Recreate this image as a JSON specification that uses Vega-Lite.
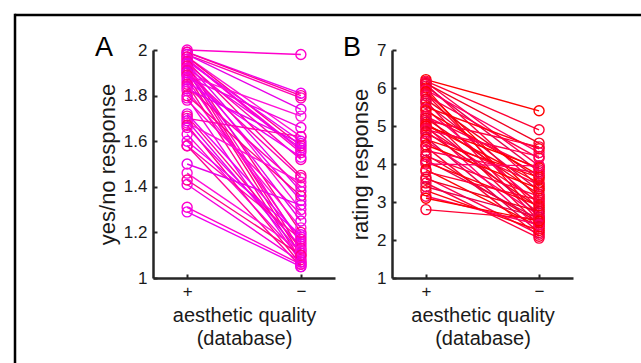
{
  "$schema": "https://vega.github.io/schema/vega-lite/v6.json",
  "background": "white",
  "padding": {"left": 13, "top": 13, "right": 0, "bottom": 0},
  "config": {
    "view": {"stroke": null},
    "font": "Liberation Sans",
    "axis": {
      "grid": false,
      "domainColor": "#262626",
      "domainWidth": 2.5,
      "tickColor": "#262626",
      "tickWidth": 2,
      "tickSize": -4,
      "labelFont": "Liberation Sans",
      "labelFontSize": 17,
      "labelColor": "#1a1a1a",
      "titleFont": "Liberation Sans",
      "titleFontSize": 20,
      "titleFontWeight": "normal",
      "titleColor": "#1a1a1a"
    },
    "title": {"font": "Liberation Sans", "fontSize": 27, "fontWeight": "normal", "color": "#000000", "anchor": "start", "frame": "group", "baseline": "alphabetic"}
  },
  "bounds": "flush",
  "spacing": 0,
  "hconcat": [
    {"data": {"values": []}, "mark": "point", "encoding": {}, "width": 0.01, "height": 347, "view": {"stroke": "#000000", "strokeWidth": 2.5}},
    {
      "bounds": "flush",
      "spacing": 34,
      "vconcat": [
        {"data": {"values": []}, "mark": "point", "encoding": {}, "width": 625, "height": 0.01, "view": {"stroke": "#000000", "strokeWidth": 2.5}},
        {
          "bounds": "flush",
          "spacing": 57,
          "resolve": {"scale": {"color": "independent"}},
          "hconcat": [
            {"data": {"values": []}, "mark": "point", "encoding": {}, "width": 80, "height": 0.01},
            {
              "width": 182,
              "height": 228,
              "title": {"text": "A", "dx": -58, "offset": -21},
              "data": {"values": [
                {"id": 1, "plus": 2.00, "minus": 1.98},
                {"id": 2, "plus": 1.99, "minus": 1.81},
                {"id": 3, "plus": 1.99, "minus": 1.80},
                {"id": 4, "plus": 1.98, "minus": 1.79},
                {"id": 5, "plus": 1.98, "minus": 1.74},
                {"id": 6, "plus": 1.97, "minus": 1.62},
                {"id": 7, "plus": 1.97, "minus": 1.58},
                {"id": 8, "plus": 1.96, "minus": 1.56},
                {"id": 9, "plus": 1.96, "minus": 1.55},
                {"id": 10, "plus": 1.95, "minus": 1.60},
                {"id": 11, "plus": 1.95, "minus": 1.45},
                {"id": 12, "plus": 1.94, "minus": 1.52},
                {"id": 13, "plus": 1.94, "minus": 1.38},
                {"id": 14, "plus": 1.93, "minus": 1.30},
                {"id": 15, "plus": 1.93, "minus": 1.20},
                {"id": 16, "plus": 1.92, "minus": 1.57},
                {"id": 17, "plus": 1.92, "minus": 1.15},
                {"id": 18, "plus": 1.91, "minus": 1.34},
                {"id": 19, "plus": 1.91, "minus": 1.12},
                {"id": 20, "plus": 1.90, "minus": 1.44},
                {"id": 21, "plus": 1.90, "minus": 1.25},
                {"id": 22, "plus": 1.89, "minus": 1.71},
                {"id": 23, "plus": 1.89, "minus": 1.10},
                {"id": 24, "plus": 1.88, "minus": 1.66},
                {"id": 25, "plus": 1.87, "minus": 1.16},
                {"id": 26, "plus": 1.86, "minus": 1.53},
                {"id": 27, "plus": 1.85, "minus": 1.08},
                {"id": 28, "plus": 1.84, "minus": 1.40},
                {"id": 29, "plus": 1.83, "minus": 1.59},
                {"id": 30, "plus": 1.82, "minus": 1.22},
                {"id": 31, "plus": 1.80, "minus": 1.36},
                {"id": 32, "plus": 1.79, "minus": 1.07},
                {"id": 33, "plus": 1.78, "minus": 1.28},
                {"id": 34, "plus": 1.72, "minus": 1.18},
                {"id": 35, "plus": 1.71, "minus": 1.13},
                {"id": 36, "plus": 1.70, "minus": 1.62},
                {"id": 37, "plus": 1.69, "minus": 1.11},
                {"id": 38, "plus": 1.68, "minus": 1.42},
                {"id": 39, "plus": 1.67, "minus": 1.06},
                {"id": 40, "plus": 1.66, "minus": 1.14},
                {"id": 41, "plus": 1.63, "minus": 1.09},
                {"id": 42, "plus": 1.60, "minus": 1.19},
                {"id": 43, "plus": 1.58, "minus": 1.05},
                {"id": 44, "plus": 1.58, "minus": 1.17},
                {"id": 45, "plus": 1.50, "minus": 1.32},
                {"id": 46, "plus": 1.46, "minus": 1.12},
                {"id": 47, "plus": 1.43, "minus": 1.10},
                {"id": 48, "plus": 1.41, "minus": 1.07},
                {"id": 49, "plus": 1.31, "minus": 1.06},
                {"id": 50, "plus": 1.29, "minus": 1.05}
              ]},
              "transform": [{"fold": ["plus", "minus"], "as": ["quality", "response"]}],
              "encoding": {
                "x": {"field": "quality", "type": "nominal", "sort": ["plus", "minus"], "scale": {"type": "point", "padding": 0.3},
                  "axis": {"title": ["aesthetic quality", "(database)"], "labelExpr": "datum.value == 'plus' ? '+' : '\u2212'", "labelAngle": 0, "labelPadding": 9, "titlePadding": 6, "titleLineHeight": 23}},
                "y": {"field": "response", "type": "quantitative", "scale": {"domain": [1, 2], "nice": false, "zero": false},
                  "axis": {"values": [1, 1.2, 1.4, 1.6, 1.8, 2], "format": "~g", "title": "yes/no response", "titleFontSize": 22, "labelPadding": 10, "titlePadding": 4}},
                "color": {"field": "id", "type": "nominal", "legend": null,
                  "scale": {"range": ["#ff00cc", "#f000f0", "#ff0099", "#ff00b4", "#e800e8", "#ff10d8", "#ff0088", "#f500dd"]}}
              },
              "layer": [
                {"mark": {"type": "line", "strokeWidth": 1.4}},
                {"mark": {"type": "point", "shape": "circle", "size": 100, "strokeWidth": 1.4, "filled": false, "opacity": 1}}
              ]
            },
            {
              "width": 181,
              "height": 228,
              "title": {"text": "B", "dx": -49, "offset": -21},
              "data": {"values": [
                {"id": 1, "plus": 6.22, "minus": 5.40},
                {"id": 2, "plus": 6.18, "minus": 4.90},
                {"id": 3, "plus": 6.15, "minus": 3.95},
                {"id": 4, "plus": 6.12, "minus": 4.55},
                {"id": 5, "plus": 6.10, "minus": 3.40},
                {"id": 6, "plus": 6.05, "minus": 3.80},
                {"id": 7, "plus": 6.00, "minus": 2.60},
                {"id": 8, "plus": 5.95, "minus": 4.30},
                {"id": 9, "plus": 5.90, "minus": 3.10},
                {"id": 10, "plus": 5.85, "minus": 2.80},
                {"id": 11, "plus": 5.80, "minus": 4.15},
                {"id": 12, "plus": 5.70, "minus": 3.60},
                {"id": 13, "plus": 5.65, "minus": 2.50},
                {"id": 14, "plus": 5.60, "minus": 3.30},
                {"id": 15, "plus": 5.50, "minus": 4.40},
                {"id": 16, "plus": 5.45, "minus": 2.95},
                {"id": 17, "plus": 5.40, "minus": 3.70},
                {"id": 18, "plus": 5.30, "minus": 2.40},
                {"id": 19, "plus": 5.25, "minus": 3.85},
                {"id": 20, "plus": 5.20, "minus": 3.20},
                {"id": 21, "plus": 5.15, "minus": 4.45},
                {"id": 22, "plus": 5.10, "minus": 2.70},
                {"id": 23, "plus": 5.05, "minus": 3.50},
                {"id": 24, "plus": 5.00, "minus": 2.30},
                {"id": 25, "plus": 5.00, "minus": 3.90},
                {"id": 26, "plus": 4.95, "minus": 3.00},
                {"id": 27, "plus": 4.90, "minus": 4.20},
                {"id": 28, "plus": 4.85, "minus": 2.85},
                {"id": 29, "plus": 4.80, "minus": 3.45},
                {"id": 30, "plus": 4.70, "minus": 2.20},
                {"id": 31, "plus": 4.65, "minus": 3.65},
                {"id": 32, "plus": 4.60, "minus": 2.65},
                {"id": 33, "plus": 4.50, "minus": 3.35},
                {"id": 34, "plus": 4.45, "minus": 2.10},
                {"id": 35, "plus": 4.35, "minus": 3.75},
                {"id": 36, "plus": 4.25, "minus": 2.45},
                {"id": 37, "plus": 4.20, "minus": 3.15},
                {"id": 38, "plus": 4.10, "minus": 2.55},
                {"id": 39, "plus": 4.05, "minus": 2.90},
                {"id": 40, "plus": 4.00, "minus": 3.95},
                {"id": 41, "plus": 3.85, "minus": 2.35},
                {"id": 42, "plus": 3.80, "minus": 3.05},
                {"id": 43, "plus": 3.65, "minus": 2.15},
                {"id": 44, "plus": 3.60, "minus": 2.75},
                {"id": 45, "plus": 3.50, "minus": 2.05},
                {"id": 46, "plus": 3.40, "minus": 2.60},
                {"id": 47, "plus": 3.30, "minus": 2.25},
                {"id": 48, "plus": 3.15, "minus": 2.40},
                {"id": 49, "plus": 3.10, "minus": 2.50},
                {"id": 50, "plus": 2.80, "minus": 2.55}
              ]},
              "transform": [{"fold": ["plus", "minus"], "as": ["quality", "response"]}],
              "encoding": {
                "x": {"field": "quality", "type": "nominal", "sort": ["plus", "minus"], "scale": {"type": "point", "padding": 0.3},
                  "axis": {"title": ["aesthetic quality", "(database)"], "labelExpr": "datum.value == 'plus' ? '+' : '\u2212'", "labelAngle": 0, "labelPadding": 9, "titlePadding": 6, "titleLineHeight": 23}},
                "y": {"field": "response", "type": "quantitative", "scale": {"domain": [1, 7], "nice": false, "zero": false},
                  "axis": {"values": [1, 2, 3, 4, 5, 6, 7], "format": "~g", "title": "rating response", "titleFontSize": 22, "labelPadding": 10, "titlePadding": 4}},
                "color": {"field": "id", "type": "nominal", "legend": null,
                  "scale": {"range": ["#ff0000", "#ff0033", "#ff0050", "#f00020", "#ff0040", "#e8004c", "#ff0010", "#ff0066"]}}
              },
              "layer": [
                {"mark": {"type": "line", "strokeWidth": 1.4}},
                {"mark": {"type": "point", "shape": "circle", "size": 100, "strokeWidth": 1.4, "filled": false, "opacity": 1}}
              ]
            }
          ]
        }
      ]
    }
  ]
}
